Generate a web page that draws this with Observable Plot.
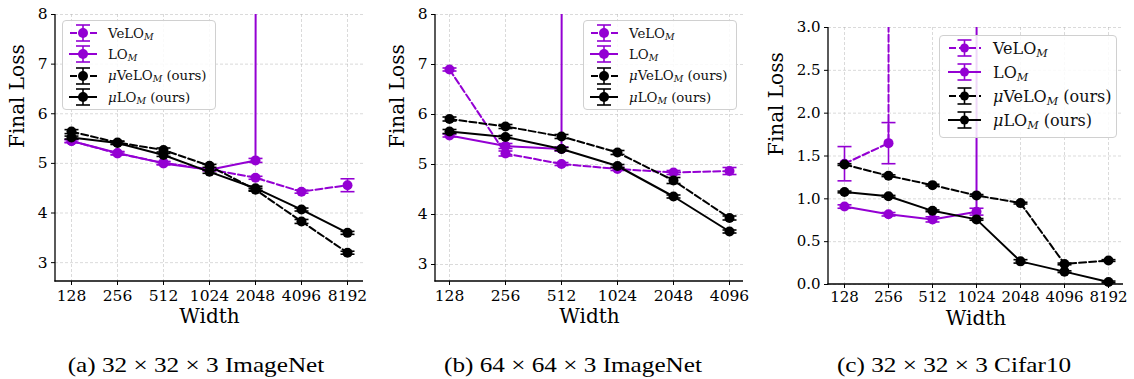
<!DOCTYPE html>
<html><head><meta charset="utf-8">
<script src="https://cdn.jsdelivr.net/npm/d3@7"></script>
<script src="https://cdn.jsdelivr.net/npm/@observablehq/plot@0.6"></script>
<style>
body{margin:0;background:#fff;}
#root{position:relative;width:1134px;height:379px;overflow:hidden;background:#fff;font-family:"DejaVu Serif",serif;}
#root svg text{font-family:"DejaVu Serif",serif;}
.panel{position:absolute;top:0;}
.legend{position:absolute;background:rgba(255,255,255,0.85);border:1px solid #d0d0d0;border-radius:4px;box-sizing:border-box;color:#111;font-family:"DejaVu Serif",serif;}
.row{position:absolute;left:0;display:flex;align-items:center;white-space:nowrap;}
.row svg{flex:none;}
.row sub{font-style:italic;font-size:0.7em;vertical-align:-0.25em;line-height:0;}
.subcap{position:absolute;top:353px;font-family:"Liberation Serif","Times New Roman",serif;font-size:21px;transform:translateX(-50%) scaleX(1.2);white-space:nowrap;color:#000;}
</style></head><body>
<div id="root"></div>
<script>
// ---------------- data ----------------
const DIVERGED = 1000; // run diverged: value far above the plotted range

// (a) 32x32x3 ImageNet
const widthsA = ["128","256","512","1024","2048","4096","8192"];
const veloA      = [5.45, 5.20, 5.01, 4.88, 4.71, 4.43, 4.56];
const veloAErr   = [0.03, 0.03, 0.03, 0.02, 0.03, 0.03, 0.13];
const loA        = [5.45, 5.21, 5.00, 4.87, 5.06, DIVERGED, null];
const loAErr     = [0.03, 0.03, 0.03, 0.02, 0.04, 0, 0];
const muVeloA    = [5.64, 5.42, 5.27, 4.95, 4.47, 3.83, 3.20];
const muVeloAErr = [0.04, 0.03, 0.04, 0.03, 0.03, 0.04, 0.03];
const muLoA      = [5.52, 5.41, 5.17, 4.83, 4.50, 4.07, 3.60];
const muLoAErr   = [0.03, 0.03, 0.03, 0.03, 0.04, 0.03, 0.03];

// (b) 64x64x3 ImageNet
const widthsB = ["128","256","512","1024","2048","4096"];
const veloB      = [6.90, 5.22, 5.01, 4.91, 4.84, 4.87];
const veloBErr   = [0.03, 0.05, 0.03, 0.03, 0.04, 0.07];
const loB        = [5.58, 5.37, 5.31, DIVERGED, null, null];
const loBErr     = [0.03, 0.05, 0.04, 0, 0, 0];
const muVeloB    = [5.91, 5.76, 5.56, 5.24, 4.68, 3.93];
const muVeloBErr = [0.04, 0.04, 0.04, 0.04, 0.06, 0.04];
const muLoB      = [5.66, 5.55, 5.31, 4.97, 4.36, 3.66];
const muLoBErr   = [0.04, 0.03, 0.03, 0.03, 0.03, 0.03];

// (c) 32x32x3 Cifar10
const widthsC = ["128","256","512","1024","2048","4096","8192"];
const veloC      = [1.41, 1.65, DIVERGED, null, null, null, null];
const veloCErr   = [0.20, 0.24, 0, 0, 0, 0, 0];
const loC        = [0.91, 0.82, 0.76, 0.85, DIVERGED, null, null];
const loCErr     = [0.02, 0.02, 0.03, 0.04, 0, 0, 0];
const muVeloC    = [1.40, 1.27, 1.16, 1.04, 0.95, 0.24, 0.28];
const muVeloCErr = [0.01, 0.01, 0.01, 0.01, 0.01, 0.01, 0.01];
const muLoC      = [1.08, 1.03, 0.86, 0.76, 0.27, 0.15, 0.03];
const muLoCErr   = [0.01, 0.01, 0.01, 0.01, 0.02, 0.01, 0.01];

const yTicksAB = [3, 4, 5, 6, 7, 8];
const yTicksC = [0.0, 0.5, 1.0, 1.5, 2.0, 2.5, 3.0];

const seriesNames = ["VeLO", "LO", "μVeLO", "μLO"];
const captions = ["(a) 32 × 32 × 3 ImageNet", "(b) 64 × 64 × 3 ImageNet", "(c) 32 × 32 × 3 Cifar10"];

// ---------------- styles ----------------
const PURPLE = "#9400d3";
const SERIF = "'DejaVu Serif', serif";
const styleOf = {
  "VeLO":  {color: PURPLE, dash: true},
  "LO":    {color: PURPLE, dash: false},
  "μVeLO": {color: "#000", dash: true},
  "μLO":   {color: "#000", dash: false}
};
const DASH = "7,3";
const capSymbol = {draw(ctx, size) { ctx.moveTo(-7, 0); ctx.lineTo(7, 0); }};

function spines(index, scales, values, dim) {
  const g = d3.create("svg:g").attr("stroke", "#000").attr("stroke-width", 1.3);
  const l = dim.marginLeft, r = dim.width - dim.marginRight, t = dim.marginTop, b = dim.height - dim.marginBottom;
  g.append("line").attr("x1", l).attr("x2", l).attr("y1", t).attr("y2", b + 0.6);
  g.append("line").attr("x1", l - 0.6).attr("x2", r).attr("y1", b).attr("y2", b);
  return g.node();
}

function makePanel(cfg) {
  const rows = [];
  cfg.series.forEach(([name, vals, errs]) => vals.forEach((v, i) => {
    if (v != null) rows.push({series: name, w: cfg.widths[i], y: v, e: errs[i] || 0});
  }));
  const marks = [
    Plot.gridX({stroke: "#b0b0b0", strokeOpacity: 0.6, strokeDasharray: "3,2", strokeWidth: 0.8}),
    Plot.gridY(cfg.yTicks, {stroke: "#b0b0b0", strokeOpacity: 0.6, strokeDasharray: "3,2", strokeWidth: 0.8}),
    spines,
    Plot.axisX({tickSize: 4, tickPadding: cfg.tpx, fontSize: cfg.tfs, label: null, fontFamily: SERIF}),
    Plot.axisY({ticks: cfg.yTicks, tickSize: 4, tickPadding: 4, fontSize: cfg.tfs, label: null, tickFormat: cfg.fmt, fontFamily: SERIF}),
    Plot.text(["Width"], {frameAnchor: "bottom", dy: cfg.wdy, fontSize: 20, fill: "#000", fontFamily: SERIF}),
    Plot.text(["Final Loss"], {frameAnchor: "left", dx: cfg.ldx, rotate: -90, fontSize: 20, fill: "#000", fontFamily: SERIF})
  ];
  for (const [name] of cfg.series) {
    const st = styleOf[name];
    const data = rows.filter(r => r.series === name);
    const vis = data.filter(r => r.y <= cfg.yDomain[1]);
    marks.push(Plot.line(data, {x: "w", y: "y", stroke: st.color, strokeWidth: 2, strokeDasharray: st.dash ? DASH : null, clip: true}));
    marks.push(Plot.ruleX(vis, {x: "w", y1: d => d.y - d.e, y2: d => d.y + d.e, stroke: st.color, strokeWidth: 1.6}));
    marks.push(Plot.dot(vis, {x: "w", y: d => d.y + d.e, symbol: capSymbol, stroke: st.color, strokeWidth: 1.6}));
    marks.push(Plot.dot(vis, {x: "w", y: d => d.y - d.e, symbol: capSymbol, stroke: st.color, strokeWidth: 1.6}));
    marks.push(Plot.dot(vis, {x: "w", y: "y", r: 5, fill: st.color, stroke: "none"}));
  }
  return Plot.plot({
    width: cfg.width, height: 330,
    marginLeft: cfg.ml, marginRight: cfg.mr, marginTop: cfg.mt, marginBottom: 330 - cfg.bottom,
    style: {fontFamily: SERIF, color: "#000", background: "transparent", overflow: "visible"},
    x: {type: "point", domain: cfg.widths, padding: cfg.pad},
    y: {domain: cfg.yDomain},
    marks
  });
}

function legendRowSvg(name, w, size) {
  const st = styleOf[name];
  const h = 22, cx = w / 2, cy = h / 2;
  const ns = "http://www.w3.org/2000/svg";
  const s = document.createElementNS(ns, "svg");
  s.setAttribute("width", w); s.setAttribute("height", h);
  s.innerHTML =
    `<line x1="0" x2="${w}" y1="${cy}" y2="${cy}" stroke="${st.color}" stroke-width="2" ${st.dash ? `stroke-dasharray="${DASH}" stroke-dashoffset="-1"` : ""}/>` +
    `<line x1="${cx}" x2="${cx}" y1="${cy - 8}" y2="${cy + 8}" stroke="${st.color}" stroke-width="1.6"/>` +
    `<line x1="${cx - 7}" x2="${cx + 7}" y1="${cy - 8}" y2="${cy - 8}" stroke="${st.color}" stroke-width="1.6"/>` +
    `<line x1="${cx - 7}" x2="${cx + 7}" y1="${cy + 8}" y2="${cy + 8}" stroke="${st.color}" stroke-width="1.6"/>` +
    `<circle cx="${cx}" cy="${cy}" r="${size}" fill="${st.color}"/>`;
  return s;
}

function labelHtml(name) {
  const mu = name.startsWith("μ");
  const base = mu ? name.slice(1) : name;
  return (mu ? "<i>μ</i>" : "") + base + "<sub>M</sub>" + (mu ? " (ours)" : "");
}

function makeLegend(root, cfg) {
  const L = document.createElement("div");
  L.className = "legend";
  Object.assign(L.style, {left: cfg.x + "px", top: cfg.y + "px", width: cfg.w + "px", height: cfg.h + "px", fontSize: cfg.fs + "px"});
  seriesNames.forEach((name, i) => {
    const r = document.createElement("div");
    r.className = "row";
    r.style.top = (cfg.row0 + i * cfg.step - 11) + "px";
    r.style.left = cfg.sx + "px";
    const svg = legendRowSvg(name, cfg.sw, cfg.r);
    r.appendChild(svg);
    const t = document.createElement("span");
    t.innerHTML = labelHtml(name);
    t.style.marginLeft = cfg.gap + "px";
    r.appendChild(t);
    L.appendChild(r);
  });
  root.appendChild(L);
}

const root = document.getElementById("root");
const panels = [
  {left: 0, width: 375, ml: 55, mr: 12, mt: 14, bottom: 281, pad: 0.3, widths: widthsA, yDomain: [2.62, 8], yTicks: yTicksAB, fmt: d3.format("d"), wdy: 41, ldx: -38, tfs: 15.5, tpx: 4,
   series: [["VeLO", veloA, veloAErr], ["LO", loA, loAErr], ["μVeLO", muVeloA, muVeloAErr], ["μLO", muLoA, muLoAErr]]},
  {left: 380, width: 375, ml: 55, mr: 12, mt: 14, bottom: 281, pad: 0.25, widths: widthsB, yDomain: [2.66, 8], yTicks: yTicksAB, fmt: d3.format("d"), wdy: 41, ldx: -38, tfs: 15.5, tpx: 4,
   series: [["VeLO", veloB, veloBErr], ["LO", loB, loBErr], ["μVeLO", muVeloB, muVeloBErr], ["μLO", muLoB, muLoBErr]]},
  {left: 760, width: 374, ml: 68, mr: 11, mt: 27, bottom: 284, pad: 0.315, widths: widthsC, yDomain: [0, 3], yTicks: yTicksC, fmt: d3.format(".1f"), wdy: 40, ldx: -52, tfs: 15, tpx: 3,
   series: [["VeLO", veloC, veloCErr], ["LO", loC, loCErr], ["μVeLO", muVeloC, muVeloCErr], ["μLO", muLoC, muLoCErr]]}
];
panels.forEach(p => {
  const el = makePanel(p);
  el.classList.add("panel");
  el.style.left = p.left + "px";
  root.appendChild(el);
});

const legends = [
  {x: 62, y: 20, w: 154, h: 90, fs: 13.3, row0: 12, step: 21.4, sx: 6, sw: 28, r: 5, gap: 11},
  {x: 583, y: 20, w: 154, h: 90, fs: 13.3, row0: 12, step: 21.4, sx: 6, sw: 28, r: 5, gap: 11},
  {x: 939, y: 35, w: 178, h: 103, fs: 16, row0: 12, step: 24, sx: 8, sw: 33, r: 4.5, gap: 12}
];
legends.forEach(l => makeLegend(root, l));

const capX = [196, 573, 954];
captions.forEach((c, i) => {
  const d = document.createElement("div");
  d.className = "subcap";
  d.textContent = c;
  d.style.left = capX[i] + "px";
  root.appendChild(d);
});
</script>
</body></html>
